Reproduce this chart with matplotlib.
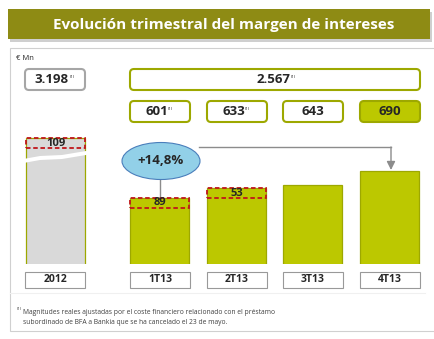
import matplotlib.pyplot as plt
from matplotlib.patches import Rectangle, FancyBboxPatch, Ellipse, Polygon

plt.rcParams['font.family'] = ['Open Sans', 'DejaVu Sans']

# Datos (€ Mn)
periodos = ['2012', '1T13', '2T13', '3T13', '4T13']
total_2012 = '3.198'
total_2013 = '2.567'
trimestres = [601, 633, 643, 690]
trim_labels = ['601', '633', '643', '690']
trim_con_nota = [True, True, False, False]
altura_2012 = 800          # barra 2012 cortada (escala rota)
ajustes = [109, 89, 53]    # coste financiero del préstamo subordinado
variacion = '+14,8%'

titulo = 'Evolución trimestral del margen de intereses'
nota = ('Magnitudes reales ajustadas por el coste financiero relacionado con el préstamo\n'
        'subordinado de BFA a Bankia que se ha cancelado el 23 de mayo.')

# colores
verde = '#BCC800'
verde_borde = '#9DA800'
oliva = '#8E8B14'
gris = '#D9D9D9'
texto = '#262626'

# posiciones (px)
slot_x = [55.5, 160, 237, 313, 390]
ancho = 59

fig = plt.figure(figsize=(4.35, 3.39), dpi=100)
bg = fig.add_axes([0, 0, 1, 1])
bg.set_xlim(0, 435)
bg.set_ylim(339, 0)
bg.axis('off')

# cabecera
bg.add_patch(Rectangle((10, 12), 422, 30, color='#B0B0B0', alpha=0.6, lw=0))
bg.add_patch(Rectangle((8, 9), 422, 30, color=oliva, lw=0))
bg.text(224, 24.5, titulo, color='white', fontsize=11, fontweight='bold',
        ha='center', va='center')

# panel
bg.add_patch(Rectangle((10, 48), 425, 283, facecolor='white', edgecolor='#D0D0D0', lw=0.8))
bg.plot([10, 425], [293, 293], color='#F0F0F0', lw=0.8)
bg.text(16, 58, '€ Mn', fontsize=5.5, color=texto, va='center')


def caja(x0, y0, w, h, borde, relleno='white', lw=1.5, r=4):
    bg.add_patch(FancyBboxPatch((x0, y0), w, h,
                                boxstyle=f'round,pad=0,rounding_size={r}',
                                facecolor=relleno, edgecolor=borde, lw=lw))


def valor(xc, yc, s, nota_sup=False, size=9.5):
    t = bg.text(xc, yc, s, fontsize=size, fontweight='bold', color=texto,
                ha='center', va='center')
    if nota_sup:
        bg.text(xc + len(s) * 3.4 + 1, yc - 3, '(1)', fontsize=3.2, color=texto,
                ha='left', va='center')
    return t


# totales
caja(25, 69, 60, 21, '#A6A6A6')
valor(52, 79.5, total_2012, True)
caja(130, 69, 290, 21, verde_borde)
valor(273, 79.5, total_2013, True)

# trimestres
for i, (lab, sup) in enumerate(zip(trim_labels, trim_con_nota)):
    xc = slot_x[i + 1]
    ultimo = i == len(trim_labels) - 1
    caja(xc - 30, 101, 60, 21, verde_borde, verde if ultimo else 'white')
    valor(xc - (3 if sup else 0), 111.5, lab, sup)

# etiquetas inferiores
for xc, p in zip(slot_x, periodos):
    bg.add_patch(Rectangle((xc - 30, 272), 60, 16, facecolor='white',
                           edgecolor='#999999', lw=0.8))
    bg.text(xc, 280, p, fontsize=7.5, fontweight='bold', color=texto,
            ha='center', va='center')

# barras
ax = fig.add_axes([0, 75 / 339, 1, 164 / 339])
ax.set_xlim(0, 435)
ax.set_ylim(380, 380 + 164 / 0.30)
ax.axis('off')
valores = [altura_2012] + trimestres
colores = [gris] + [verde] * len(trimestres)
ax.bar(slot_x, valores, width=ancho, bottom=0, color=colores,
       edgecolor=verde_borde, lw=0.9)

# corte de escala en 2012
corte = Polygon([(18, 160), (40, 156), (62, 155), (92, 150),
                 (92, 154), (62, 159), (40, 160), (18, 164)],
                closed=True, facecolor='white', edgecolor='none',
                transform=bg.transData, clip_on=False)
ax.add_patch(corte)

# ajustes (cajas discontinuas)
alto_caja = 10 / 0.30
for xc, v, a in zip(slot_x[:3], valores[:3], ajustes):
    ax.add_patch(Rectangle((xc - ancho / 2, v - alto_caja), ancho, alto_caja,
                           facecolor='none', edgecolor='#C0161B', lw=1.3,
                           ls=(0, (2.5, 1.5)), zorder=3))
    ax.text(xc, v - alto_caja / 2, str(a), fontsize=8, fontweight='bold',
            color=texto, ha='center', va='center', zorder=4)

# variación 1T13 -> 4T13
to_px = lambda x, y: bg.transData.inverted().transform(ax.transData.transform((x, y)))
x1, y1 = to_px(slot_x[1], valores[1])
x4, y4 = to_px(slot_x[4], valores[4])
ex, ey = 161, 161
bg.plot([x1, x1], [ey + 18, y1], color='#8C8C8C', lw=1)
bg.plot([ex + 38, x4 + 1], [147, 147], color='#8C8C8C', lw=1)
bg.annotate('', xy=(x4 + 1, y4 - 1), xytext=(x4 + 1, 147),
            arrowprops=dict(arrowstyle='-|>,head_length=0.5,head_width=0.25',
                            color='#8C8C8C', lw=1, shrinkA=0, shrinkB=0))
bg.add_patch(Ellipse((ex, ey), 78, 37, facecolor='#92D0E8',
                     edgecolor='#4A7EBB', lw=0.8, zorder=5))
bg.text(ex, ey, variacion, fontsize=9.5, fontweight='bold', color=texto,
        ha='center', va='center', zorder=6)

# nota
bg.text(17, 309, '(1)', fontsize=3.2, color='#404040', va='center')
bg.text(23, 317.5, nota, fontsize=4.9, color='#404040', va='center',
        linespacing=1.6)

fig.savefig('out.png', dpi=100)
